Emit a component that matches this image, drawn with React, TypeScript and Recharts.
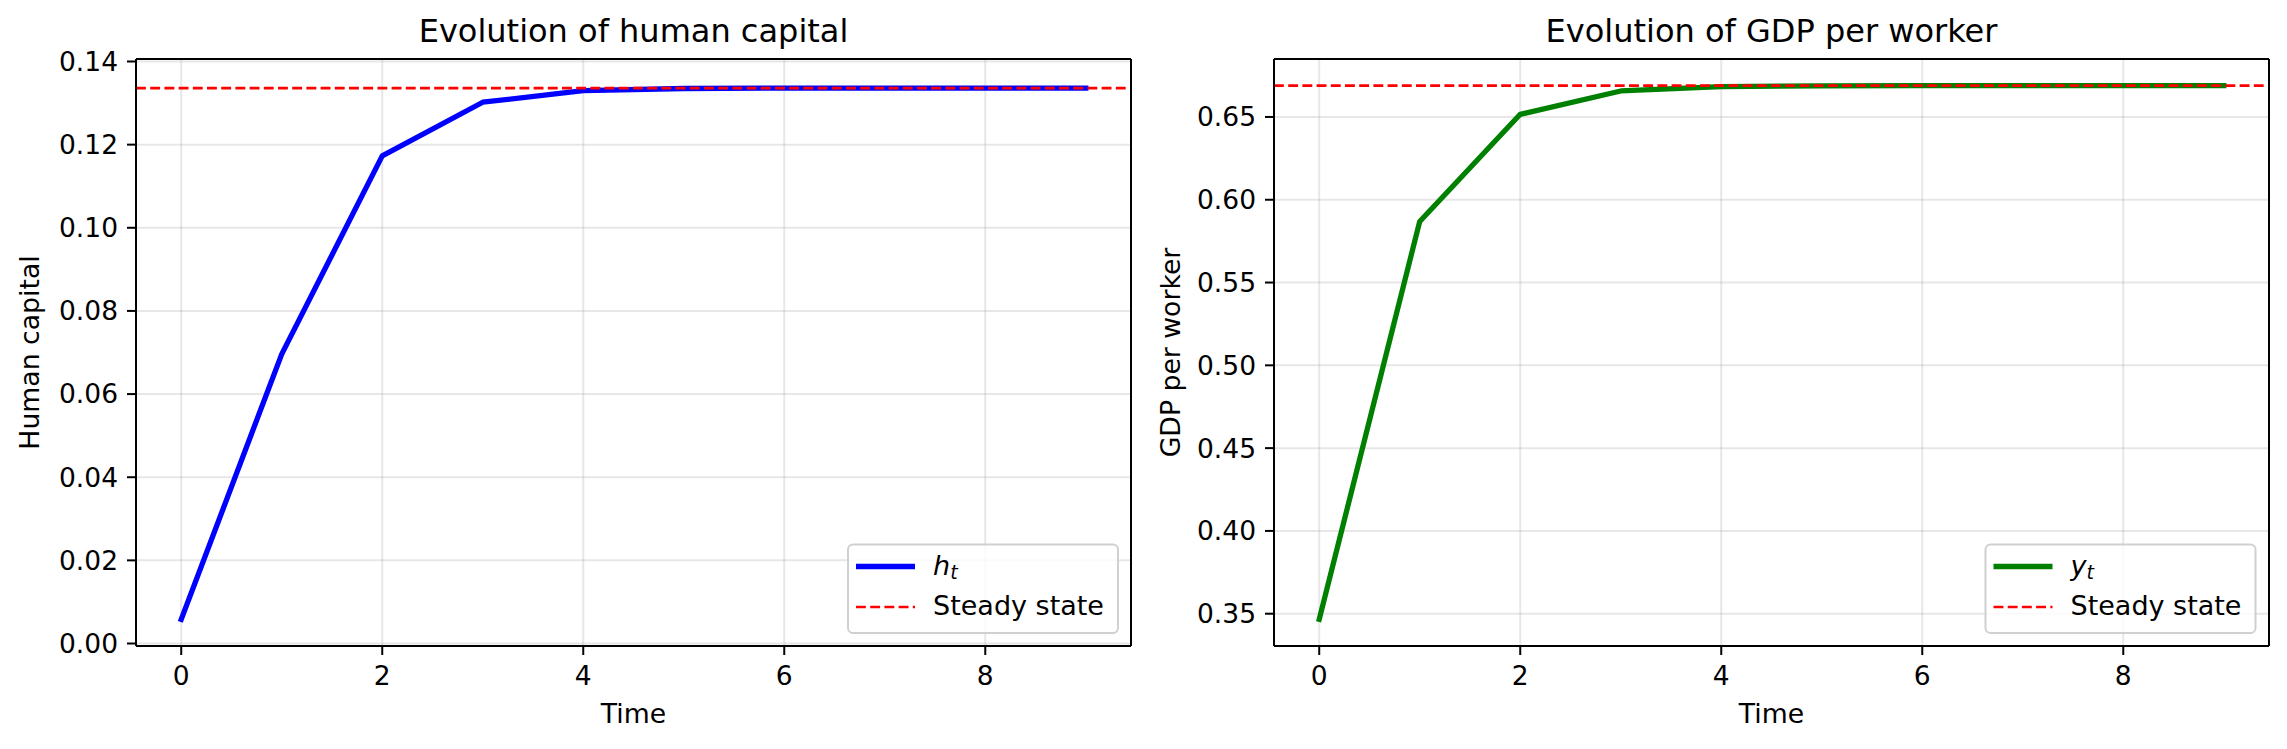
import React from "react";
import {
  LineChart,
  Line,
  XAxis,
  YAxis,
  CartesianGrid,
  ReferenceLine,
} from "recharts";

const time = [0, 1, 2, 3, 4, 5, 6, 7, 8, 9];
const humanCapital = [0.0058, 0.0696, 0.1173, 0.1302, 0.133, 0.1335, 0.1336, 0.1336, 0.1336, 0.1336];
const gdpPerWorker = [0.3466, 0.5869, 0.6516, 0.6657, 0.6683, 0.6688, 0.6689, 0.6689, 0.6689, 0.6689];
const hSteady = 0.1336;
const ySteady = 0.6689;

const xTicks = [0, 2, 4, 6, 8];
const hTicks = [0, 0.02, 0.04, 0.06, 0.08, 0.1, 0.12, 0.14];
const yTicks = [0.35, 0.4, 0.45, 0.5, 0.55, 0.6, 0.65];

const FONT = "DejaVu Sans";
const TICK_FONT = 26.5;

const hData = time.map((t, i) => ({ t, v: humanCapital[i] }));
const yData = time.map((t, i) => ({ t, v: gdpPerWorker[i] }));

const tickStyle = { fill: "#000", fontSize: TICK_FONT, fontFamily: FONT };
const blackLine = { stroke: "#000", strokeWidth: 2 };

interface PanelProps {
  data: { t: number; v: number }[];
  color: string;
  yDomain: [number, number];
  yTicks: number[];
  steady: number;
  width: number;
  marginLeft: number;
  marginRight: number;
}

const Panel = ({ data, color, yDomain, yTicks, steady, width, marginLeft, marginRight }: PanelProps) => (
  <LineChart
    width={width}
    height={749}
    data={data}
    margin={{ top: 49, right: marginRight, bottom: 63, left: marginLeft }}
  >
    <CartesianGrid stroke="#b0b0b0" strokeOpacity={0.3} strokeWidth={2} />
    <XAxis
      xAxisId={0}
      type="number"
      dataKey="t"
      domain={[-0.45, 9.45]}
      ticks={xTicks}
      allowDataOverflow
      height={40}
      tick={tickStyle}
      tickSize={9}
      tickMargin={11}
      tickLine={blackLine}
      axisLine={blackLine}
    />
    <XAxis
      xAxisId="top"
      orientation="top"
      type="number"
      dataKey="t"
      domain={[-0.45, 9.45]}
      allowDataOverflow
      height={10}
      tick={false}
      tickLine={false}
      axisLine={blackLine}
    />
    <YAxis
      yAxisId={0}
      type="number"
      domain={yDomain}
      ticks={yTicks}
      allowDataOverflow
      width={80}
      tick={tickStyle}
      tickSize={9}
      tickMargin={9}
      tickLine={blackLine}
      axisLine={blackLine}
      tickFormatter={(v: number) => v.toFixed(2)}
    />
    <YAxis
      yAxisId="right"
      orientation="right"
      type="number"
      domain={yDomain}
      allowDataOverflow
      width={10}
      tick={false}
      tickLine={false}
      axisLine={blackLine}
    />
    <Line
      type="linear"
      dataKey="v"
      stroke={color}
      strokeWidth={5.3}
      strokeLinejoin="round"
      strokeLinecap="square"
      dot={false}
      activeDot={false}
      isAnimationActive={false}
    />
    <ReferenceLine
      y={steady}
      stroke="#ff0000"
      strokeWidth={2.7}
      strokeDasharray="9.9 4.3"
    />
  </LineChart>
);

const LegendBox = ({ x, color, sym }: { x: number; color: string; sym: string }) => (
  <g>
    <rect
      x={x}
      y={544.5}
      width={270}
      height={88.5}
      rx={5}
      fill="#fff"
      fillOpacity={0.8}
      stroke="#d0d0d0"
      strokeWidth={2}
    />
    <line x1={x + 8} x2={x + 67} y1={566.5} y2={566.5} stroke={color} strokeWidth={5.3} />
    <line
      x1={x + 8}
      x2={x + 67}
      y1={607}
      y2={607}
      stroke="#ff0000"
      strokeWidth={2.7}
      strokeDasharray="9.9 4.3"
    />
    <text x={x + 85} y={575} fontSize={27} fontStyle="italic">
      {sym}
      <tspan fontSize={19} dy={4}>
        t
      </tspan>
    </text>
    <text x={x + 85} y={615} fontSize={27}>
      Steady state
    </text>
  </g>
);

const App = () => (
  <div
    style={{
      position: "absolute",
      left: 0,
      top: 0,
      width: 2287,
      height: 749,
      background: "#fff",
      fontFamily: FONT,
    }}
  >
    <div style={{ position: "absolute", left: 0, top: 0 }}>
      <Panel
        data={hData}
        color="#0000ff"
        yDomain={[-0.0006, 0.1406]}
        yTicks={hTicks}
        steady={hSteady}
        width={1150}
        marginLeft={56}
        marginRight={9}
      />
    </div>
    <div style={{ position: "absolute", left: 1150, top: 0 }}>
      <Panel
        data={yData}
        color="#008000"
        yDomain={[0.3305, 0.685]}
        yTicks={yTicks}
        steady={ySteady}
        width={1137}
        marginLeft={44}
        marginRight={8}
      />
    </div>
    <svg
      width={2287}
      height={749}
      style={{ position: "absolute", left: 0, top: 0, pointerEvents: "none" }}
      fontFamily={FONT}
      fill="#000"
    >
      <text x={633.5} y={42} fontSize={32} textAnchor="middle">
        Evolution of human capital
      </text>
      <text x={1771.5} y={42} fontSize={32} textAnchor="middle">
        Evolution of GDP per worker
      </text>
      <text x={633.5} y={723} fontSize={26.7} textAnchor="middle">
        Time
      </text>
      <text x={1771.5} y={723} fontSize={26.7} textAnchor="middle">
        Time
      </text>
      <text
        x={39}
        y={352.5}
        fontSize={26.7}
        textAnchor="middle"
        transform="rotate(-90 39 352.5)"
      >
        Human capital
      </text>
      <text
        x={1180}
        y={352.5}
        fontSize={26.7}
        textAnchor="middle"
        transform="rotate(-90 1180 352.5)"
      >
        GDP per worker
      </text>
      <LegendBox x={848} color="#0000ff" sym="h" />
      <LegendBox x={1985.5} color="#008000" sym="y" />
    </svg>
  </div>
);

export default App;
